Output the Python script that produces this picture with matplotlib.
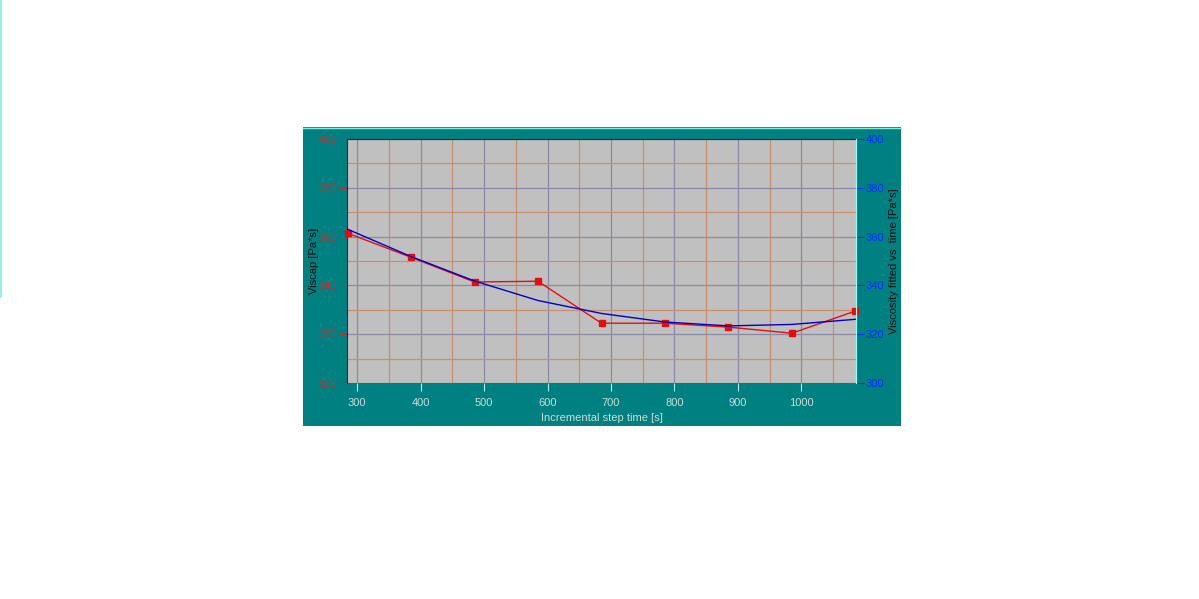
import matplotlib
matplotlib.use("Agg")
import matplotlib.pyplot as plt
from matplotlib.patches import Rectangle
from matplotlib.lines import Line2D
from matplotlib.ticker import MultipleLocator

# data
step_time = [285, 385, 485, 585, 685, 785, 885, 985, 1085]
viscap = [361.4, 351.5, 341.4, 341.7, 324.5, 324.5, 322.9, 320.4, 329.5]
visc_fit = [363.0, 351.8, 341.8, 333.8, 328.5, 325.0, 323.4, 324.0, 326.1]

x_ticks = [300, 400, 500, 600, 700, 800, 900, 1000]
y_ticks = [300, 320, 340, 360, 380, 400]

teal = "#008080"
plt.rcParams['font.family'] = ['Liberation Sans', 'DejaVu Sans']

fig = plt.figure(figsize=(11.99, 5.99), dpi=100)
fig.patch.set_facecolor("white")

W, H = 1199.0, 599.0
def fx(px): return px / W
def fy(py): return 1 - py / H

# teal panel behind the chart
fig.patches.append(Rectangle((fx(303), fy(426)), fx(901) - fx(303), fy(127) - fy(426),
                             transform=fig.transFigure, facecolor=teal, edgecolor="none", zorder=-10))
fig.lines.append(Line2D([fx(303), fx(901)], [fy(127.5), fy(127.5)], transform=fig.transFigure,
                        color="#80f0e0", linewidth=1, zorder=-9))
fig.lines.append(Line2D([fx(0.5), fx(0.5)], [fy(0), fy(297)], transform=fig.transFigure,
                        color="#80f0e0", linewidth=1.2, zorder=-9))

ax = fig.add_axes([fx(347), fy(383), fx(856) - fx(347), fy(139) - fy(383)])
ax.set_facecolor("#c0c0c0")
ax.set_xlim(step_time[0] - 1, step_time[-1] + 1)
ax.set_ylim(300, 400)

ax.set_xticks(x_ticks)
ax.set_yticks(y_ticks)
ax.xaxis.set_minor_locator(MultipleLocator(50))
ax.yaxis.set_minor_locator(MultipleLocator(10))
ax.grid(True, which="major", color="#8a8aa8", linewidth=0.9)
ax.grid(True, which="minor", color="#c8906c", linewidth=0.9)
ax.tick_params(which="minor", length=0)
ax.set_axisbelow(True)

ax.tick_params(axis="y", colors="#c83030", labelcolor="#c83030", length=6, pad=1, labelsize=8)
ax.tick_params(axis="x", colors="#a0f0f0", labelcolor="#c8dcdc", length=6, pad=4.5, labelsize=8)

ax.spines["bottom"].set_visible(False)
ax.spines["left"].set_color("#003838")
ax.spines["top"].set_color("#003838")
ax.spines["right"].set_color("#a0f8f0")

ax.set_xlabel("Incremental step time [s]", color="#c8dcdc", fontsize=8, labelpad=4)
ax.set_ylabel("Viscap [Pa*s]", color="#101010", fontsize=8, labelpad=0)

ax.plot(step_time, viscap, color="#e01010", linewidth=1, marker="s", markersize=4,
        markerfacecolor="#e01010", markeredgecolor="#e01010", zorder=3, clip_on=False)

ax2 = ax.twinx()
ax2.set_ylim(300, 400)
ax2.set_yticks(y_ticks)
ax2.tick_params(axis="y", colors="#0030ff", labelcolor="#0030ff", length=6, pad=1, labelsize=8)
for s in ["bottom", "left", "top"]:
    ax2.spines[s].set_visible(False)
ax2.spines["right"].set_color("#a0f8f0")
ax2.set_ylabel("Viscosity fitted vs. time [Pa*s]", color="#101010", fontsize=8, labelpad=3)
ax2.plot(step_time, visc_fit, color="#0000c8", linewidth=1, zorder=2)

fig.savefig("out.png", dpi=100, facecolor="white")
plt.close()
